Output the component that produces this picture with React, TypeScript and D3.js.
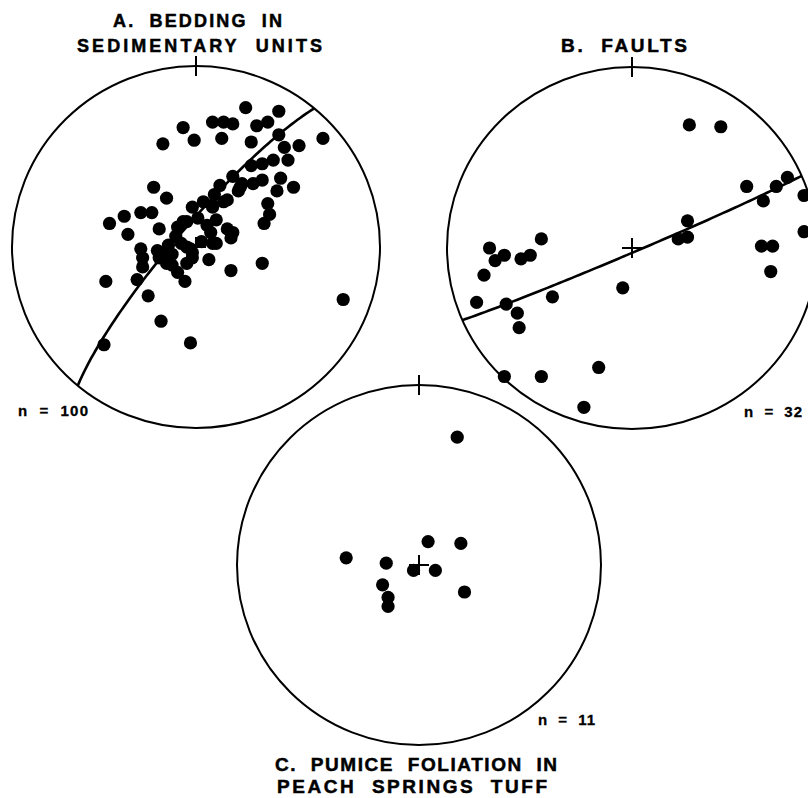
import React from "react";
import * as d3 from "d3";

// pole positions on lower-hemisphere equal-area nets, [east, north] in % of net radius
const beddingPoles: [number, number][] = [
  [27, 77], [45, 75], [-7, 66], [9, 69], [15, 69], [20, 68], [33, 67], [39, 69],
  [-18, 57], [-1, 59], [14, 60], [30, 58], [45, 62], [56, 56], [69, 60], [48, 55],
  [50, 48], [42, 48], [36, 46], [30, 45], [20, 39], [25, 35], [31, 35], [36, 37],
  [46, 38], [44, 31], [53, 33], [13, 34], [17, 26], [-23, 33], [-16, 27], [10, 29],
  [4, 25], [39, 24], [40, 18], [37, 13], [-2, 22], [-30, 19], [-24, 19], [-39, 17],
  [-47, 13], [-37, 7], [-20, 10], [-10, 11], [-5, 14], [-11, 6], [6, 12], [11, 15],
  [17, 10], [19, 5], [11, 2], [3, 3], [-30, -1], [-21, -2], [-16, -3], [-3, -1],
  [-2, -6], [-5, -9], [7, -7], [19, -13], [36, -9], [-29, -6], [-29, -11], [-13, -10],
  [-10, -14], [-6, -19], [-49, -19], [-32, -18], [-26, -27], [-19, -41], [-3, -53],
  [-50, -54], [80, -29], [-16, -9], [1, 16], [9, 2], [-7, 14], [23, 31], [-5, 0],
  [-15, 1], [20, 8], [8, 8], [9, 23], [15, 25], [-20, -6], [-8, 2], [-2, -3],
  [-13, -4], [9, 22], [24, 33],
];

const faultPoles: [number, number][] = [
  [31, 68], [48, 67], [62, 34], [78, 34], [84, 39], [93, 29], [71, 26], [93, 9],
  [70, 1], [76, 1], [75, -13], [30, 15], [25, 5], [30, 6], [-5, -22], [-77, 0],
  [-74, -7], [-69, -4], [-60, -6], [-55, -4], [-49, 5], [-80, -15], [-84, -30],
  [-68, -31], [-62, -36], [-61, -44], [-43, -27], [-69, -71], [-49, -71], [-18, -66],
  [-26, -88],
];

const pumicePoles: [number, number][] = [
  [21, 71], [5, 13], [23, 12], [-40, 4], [-18, 1], [-3, -3], [9, -3],
  [-20, -11], [-17, -18], [-17, -23], [25, -15],
];

// best-fit great circles: [dip direction, dip] in degrees
const beddingPlane = [310, 81];
const faultPlane = [156.5, 88];

const netTitles = [
  ["A.  BEDDING  IN", "SEDIMENTARY  UNITS"],
  ["B.  FAULTS"],
  ["C.  PUMICE  FOLIATION  IN", "PEACH  SPRINGS  TUFF"],
];
const netCounts = ["n  =  100", "n  =  32", "n  =  11"];

const W = 808;
const H = 798;
const FONT = "'Liberation Sans', Arial, Helvetica, sans-serif";

// keep the double spaces of the original lettering
const nb = (s: string) => s.replace(/ /g, "\u00a0");

// equal-area projection of the lines lying in a plane
function greatCircle(dipDir: number, dip: number): [number, number][] {
  const rad = Math.PI / 180;
  const s = (dipDir - 90) * rad;
  const dd = dipDir * rad;
  const dp = dip * rad;
  return d3.range(0, 180.01, 2).map((t) => {
    const tr = t * rad;
    const e = Math.cos(tr) * Math.sin(s) + Math.sin(tr) * Math.sin(dd) * Math.cos(dp);
    const n = Math.cos(tr) * Math.cos(s) + Math.sin(tr) * Math.cos(dd) * Math.cos(dp);
    const z = -Math.sin(tr) * Math.sin(dp);
    const k = 100 / Math.sqrt(1 - z);
    return [e * k, n * k] as [number, number];
  });
}

type NetProps = {
  cx: number;
  cy: number;
  rx: number;
  ry: number;
  poles: [number, number][];
  plane?: number[];
};

const Net = ({ cx, cy, rx, ry, poles, plane }: NetProps) => {
  const x = d3.scaleLinear().domain([-100, 100]).range([cx - rx, cx + rx]);
  const y = d3.scaleLinear().domain([-100, 100]).range([cy + ry, cy - ry]);
  const line = d3
    .line<[number, number]>()
    .x((d) => x(d[0]))
    .y((d) => y(d[1]))
    .curve(d3.curveBasis);

  return (
    <g>
      <ellipse cx={x(0)} cy={y(0)} rx={rx} ry={ry} fill="none" stroke="#000" strokeWidth={2} />
      {/* north tick */}
      <line x1={x(0)} x2={x(0)} y1={y(100) - 10} y2={y(100) + 10} stroke="#000" strokeWidth={2} />
      {/* centre cross */}
      <line x1={x(0) - 10} x2={x(0) + 10} y1={y(0)} y2={y(0)} stroke="#000" strokeWidth={2} />
      <line x1={x(0)} x2={x(0)} y1={y(0) - 10} y2={y(0) + 10} stroke="#000" strokeWidth={2} />
      {plane && (
        <path d={line(greatCircle(plane[0], plane[1])) || ""} fill="none" stroke="#000" strokeWidth={2.6} />
      )}
      {poles.map((p, i) => (
        <circle key={i} cx={x(p[0])} cy={y(p[1])} r={6.6} fill="#000" />
      ))}
    </g>
  );
};

export default function App() {
  const txt = { stroke: "#000", strokeWidth: 0.5, lengthAdjust: "spacing" as const };
  return (
    <svg
      width={W}
      height={H}
      style={{ position: "absolute", left: 0, top: 0, background: "#fff" }}
      fontFamily={FONT}
      fontWeight="bold"
    >
      <rect width={W} height={H} fill="#fff" />

      <Net cx={196} cy={247} rx={184} ry={181} poles={beddingPoles} plane={beddingPlane} />
      <Net cx={632} cy={248} rx={185} ry={181} poles={faultPoles} plane={faultPlane} />
      <Net cx={419} cy={565} rx={182} ry={180} poles={pumicePoles} />

      <g>
        <text x={113} y={27} fontSize={18} textLength={169} {...txt}>{nb(netTitles[0][0])}</text>
        <text x={77} y={52} fontSize={18} textLength={245} {...txt}>{nb(netTitles[0][1])}</text>
        <text x={561} y={52} fontSize={19} textLength={126} {...txt}>{nb(netTitles[1][0])}</text>
        <text x={275} y={771} fontSize={19} textLength={282} {...txt}>{nb(netTitles[2][0])}</text>
        <text x={277} y={793} fontSize={19} textLength={270} {...txt}>{nb(netTitles[2][1])}</text>

        <text x={18} y={416} fontSize={15} textLength={70} {...txt} strokeWidth={0.3}>{nb(netCounts[0])}</text>
        <text x={744} y={417} fontSize={15} textLength={58} {...txt} strokeWidth={0.3}>{nb(netCounts[1])}</text>
        <text x={538} y={725} fontSize={15} textLength={57} {...txt} strokeWidth={0.3}>{nb(netCounts[2])}</text>
      </g>
    </svg>
  );
}
